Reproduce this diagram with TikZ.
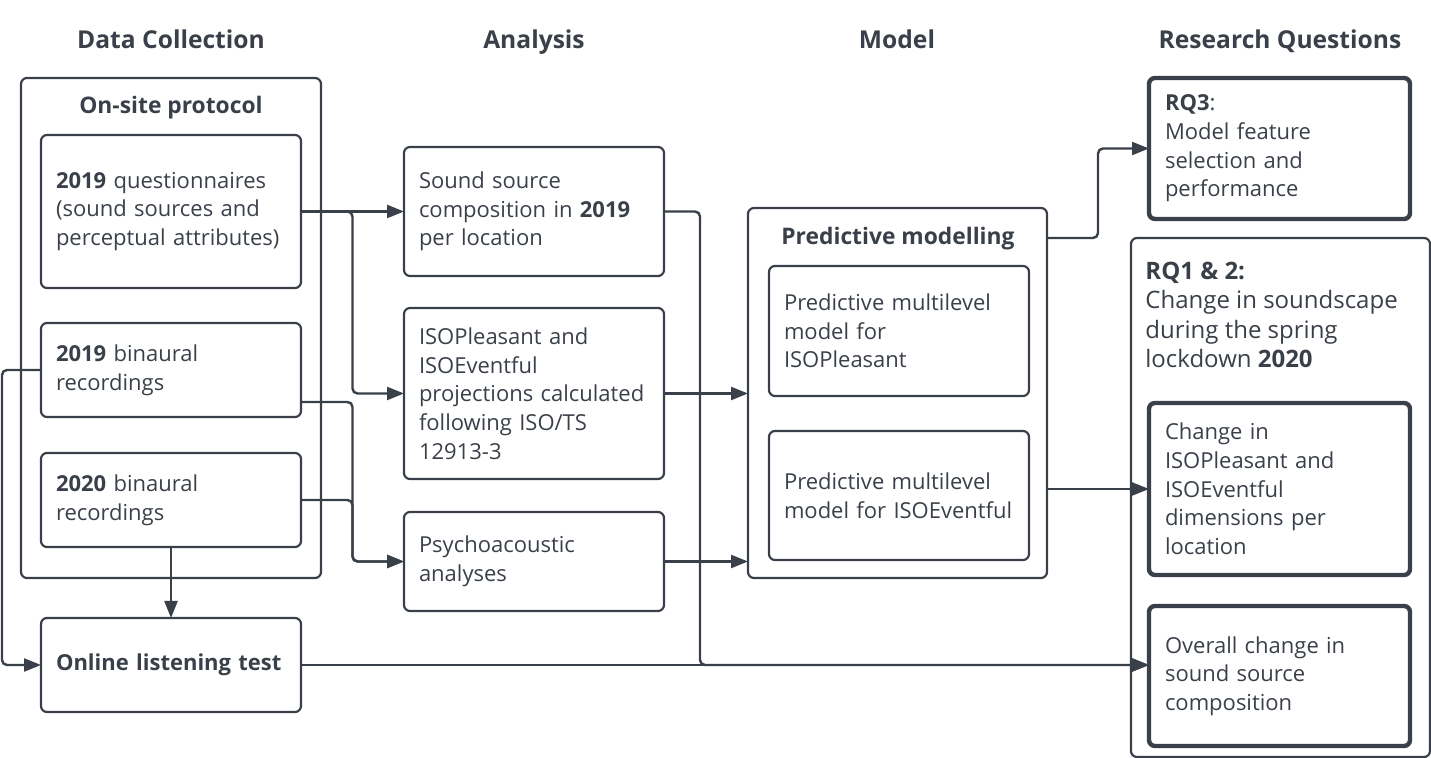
\documentclass[tikz,border=0pt]{standalone}
\usepackage{fontspec}
\setmainfont{Open Sans}
\usetikzlibrary{calc,arrows.meta,positioning}
\definecolor{ink}{HTML}{3A4049}

\begin{document}
\begin{tikzpicture}[x=0.5pt,y=-0.5pt,
        font=\fontsize{11}{14.35}\selectfont,text=ink,
        colhead/.style={anchor=base,font=\fontsize{12.3}{15}\selectfont\bfseries},
        panelhead/.style={font=\fontsize{11.4}{14}\selectfont\bfseries},
        panel/.style={draw=ink,line width=1.1pt,rounded corners=3pt,anchor=north west,minimum width=150pt,outer sep=0pt},
        item/.style={draw=ink,line width=1.1pt,rounded corners=3pt,align=left,text width=115pt,inner xsep=7.5pt,inner ysep=0pt,outer sep=0pt},
        rq/.style={item,line width=2.2pt,text width=114.5pt,inner xsep=8pt},
        link/.style={draw=ink,line width=1.2pt,rounded corners=2.5pt,-{Triangle[length=8.5pt,width=6.5pt]}},
        node distance=17.5pt
      ]

  \useasboundingbox (0,0) rectangle (1431,758);

  \node (hcol) [colhead] at (171,49) {Data Collection};
  \node (hana) [colhead] at (534,49) {Analysis};
  \node (hmod) [colhead] at (897,49) {Model};
  \node (hrq) [colhead] at (1280,49) {Research Questions};

  % data collection
  \node (onsite) [panel,minimum height=250pt] at (21,78) {};
  \node (onsitehead) [panelhead] at (171,108) {On-site protocol};
  \node (q19) [item,anchor=north west,minimum height=76.5pt] at (41,135) {\textbf{2019} questionnaires\\(sound sources and\\perceptual attributes)};
  \node (bin19) [item,minimum height=47pt,below=of q19] {\textbf{2019} binaural\\recordings};
  \node (bin20) [item,minimum height=47pt,below=18pt of bin19] {\textbf{2020} binaural\\recordings};
  \node (online) [item,minimum height=47pt,below=35.5pt of bin20] {\textbf{Online listening test}};

  % analysis
  \node (ssc) [item,anchor=north west,minimum height=64.5pt] at (404,147) {Sound source\\composition in \textbf{2019}\\per location};
  \node (isop) [item,minimum height=85.5pt,below=16pt of ssc] {ISOPleasant and\\ISOEventful\\projections calculated\\following ISO/TS\\12913-3};
  \node (psy) [item,minimum height=49.5pt,below=16.5pt of isop] {Psychoacoustic\\analyses};

  % model
  \node (pm) [panel,minimum width=149.5pt,minimum height=185pt] at (748,208) {};
  \node (pmhead) [panelhead] at (898,239) {Predictive modelling};
  \node (pml) [item,anchor=north west,minimum height=65pt] at (769,266) {Predictive multilevel\\model for\\ISOPleasant};
  \node (pme) [item,minimum height=64.5pt,below=of pml] {Predictive multilevel\\model for ISOEventful};

  % research questions
  \node (rq3) [rq,anchor=north west,minimum height=70.5pt] at (1149,78) {\textbf{RQ3}:\\Model feature\\selection and\\performance};
  \node (rq12) [panel,minimum width=149.5pt,minimum height=259.5pt] at (1131,238) {};
  \node (rq12txt) [anchor=west,inner sep=0pt,align=left,font=\fontsize{12}{14.7}\selectfont] at (1145,315) {\textbf{RQ1 \& 2:}\\Change in soundscape\\during the spring\\lockdown \textbf{2020}};
  \node (chg) [rq,anchor=north west,minimum height=86pt] at (1149,403) {Change in\\ISOPleasant and\\ISOEventful\\dimensions per\\location};
  \node (ovr) [rq,minimum height=70pt,below=15.5pt of chg] {Overall change in\\sound source\\composition};

  \coordinate (busA) at ($(q19.east)!.5!(ssc.west)$);
  \coordinate (busL) at ([xshift=-19.5pt]bin19.west);
  \coordinate (busC) at ([xshift=18pt]ssc.east);
  \coordinate (busR) at ($(pm.east)!.5!(rq3.west)$);

  \draw[link] (q19.east) -- (ssc.west);
  \draw[link] (q19.east) -| (busA |- isop.west) -- (isop.west);
  \draw[link] ([yshift=7.5pt]bin19.south east) -| (busA |- psy.west) -- (psy.west);
  \draw[link] (bin20.east) -| (busA |- psy.west) -- (psy.west);
  \draw[link] (bin19.west) -| (busL |- online.west) -- (online.west);
  \draw[link] (bin20.south) -- (online.north);
  \draw[link] (ssc.east) -| (busC |- online.east) -- (online.east -| ovr.west);
  \draw[link] (online.east) -- (online.east -| ovr.west);
  \draw[link] (isop.east) -- (isop.east -| pm.west);
  \draw[link] (psy.east) -- (psy.east -| pm.west);
  \draw[link] ([yshift=-15pt]pm.north east) -| (busR |- rq3.west) -- (rq3.west);
  \draw[link] (chg.west -| pm.east) -- (chg.west);

\end{tikzpicture}
\end{document}
